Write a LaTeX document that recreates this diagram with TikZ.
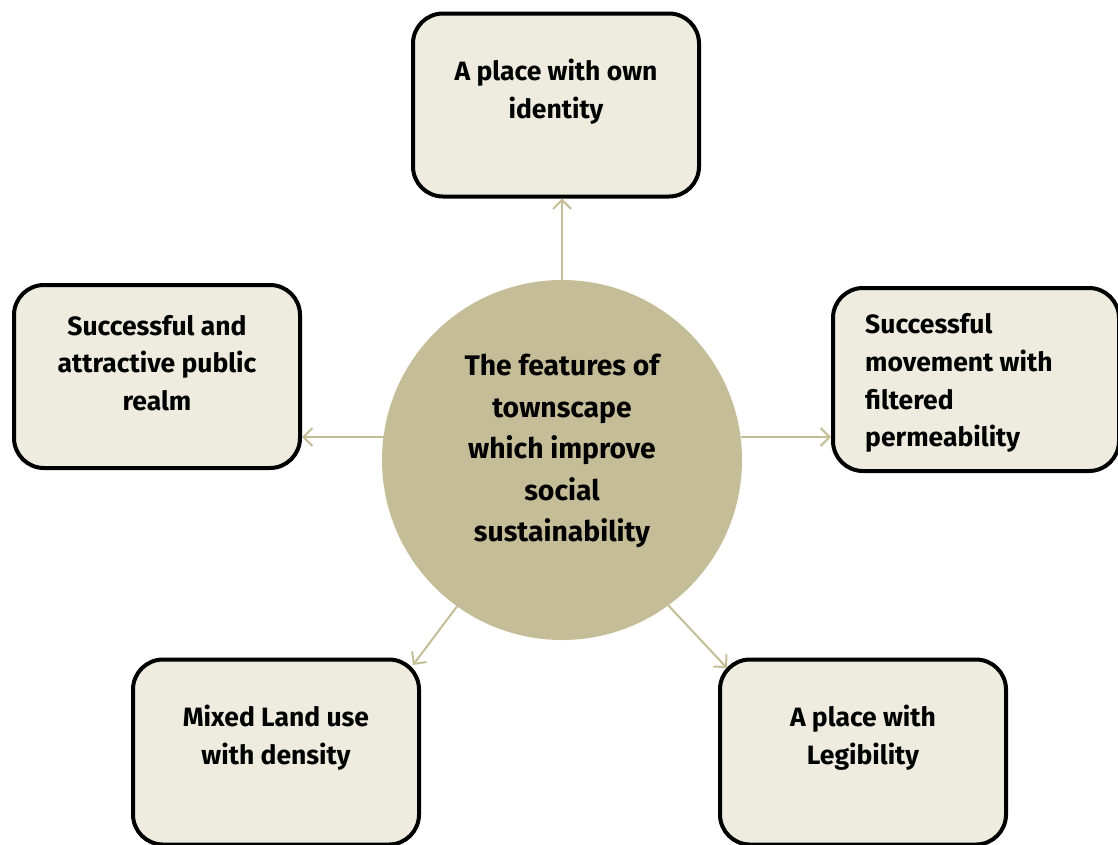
\documentclass[tikz,border=0pt]{standalone}
\usepackage{fontspec}
\setmainfont{Fira Sans}
\usetikzlibrary{arrows.meta}
\definecolor{boxfill}{HTML}{EEEBDF}
\definecolor{tan}{HTML}{C4BD98}
\tikzset{
  box/.style={draw=black, line width=4pt, fill=boxfill, rounded corners=30pt, minimum width=286pt, minimum height=183pt, inner sep=0pt},
  boxtext/.style={font=\bfseries\fontsize{26.5}{37.8}\selectfont, align=center, inner sep=0pt},
  hub/.style={circle, fill=tan, minimum size=360pt, inner sep=0pt},
  hubtext/.style={font=\bfseries\fontsize{28.3}{41.5}\selectfont, align=center, inner sep=0pt},
  link/.style={draw=tan, line width=2pt, -{Straight Barb[length=9pt,width=18pt,line width=2pt]}}
}
\begin{document}
\begin{tikzpicture}[x=1pt,y=-1pt]
\useasboundingbox (0,0) rectangle (1118,844);
\node[hub] (c) at (562,460) {};
\node[hubtext] (ct) at (562,451) {The features of\\townscape\\which improve\\social\\sustainability};
\node[box] (top) at (556,105) {};
\node[boxtext] (tt) at (556,92) {A place with own\\identity};
\node[box] (left) at (157,376.5) {};
\node[boxtext] (lt) at (157,363) {Successful and\\attractive public\\realm};
\node[box] (right) at (976,379.5) {};
\node[boxtext, align=left, anchor=west] (rt) at (865,383) {Successful\\movement with\\filtered\\permeability};
\node[box, minimum height=185pt] (bl) at (276,752) {};
\node[boxtext] (blt) at (276,738) {Mixed Land use\\with density};
\node[box, minimum height=185pt] (br) at (863,752) {};
\node[boxtext] (brt) at (863,738) {A place with\\Legibility};
\coordinate (a1) at (562,282);
\coordinate (a2) at (383.5,437);
\coordinate (a3) at (740.5,437);
\coordinate (a4) at (458,605);
\coordinate (a5) at (668,605);
\draw[link] (a1) -- (a1 |- top.south);
\draw[link] (a2) -- (left.east |- a2);
\draw[link] (a3) -- (right.west |- a3);
\draw[link] (a4) -- (413,665);
\draw[link] (a5) -- (727,668);
\end{tikzpicture}
\end{document}
